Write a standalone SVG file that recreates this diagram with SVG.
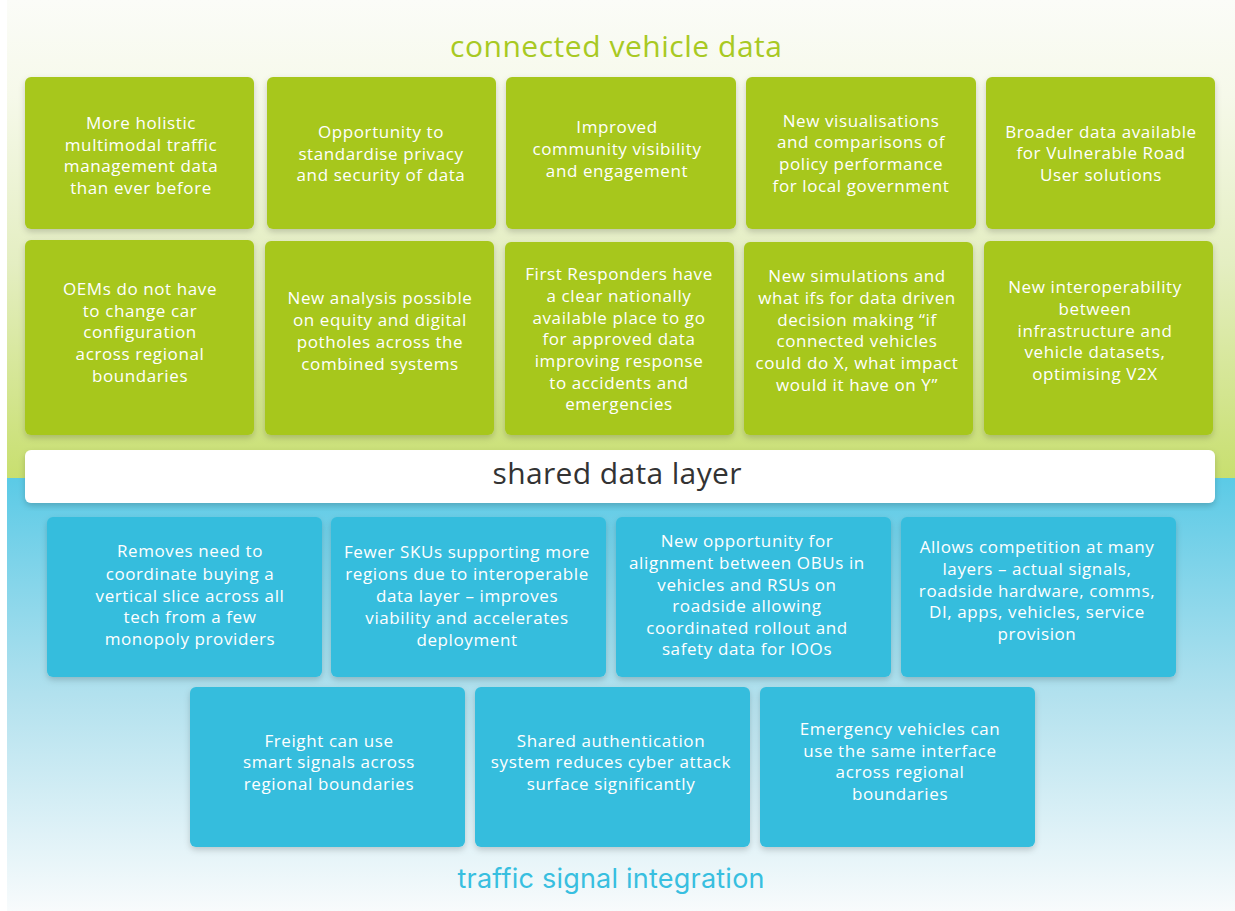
<svg xmlns="http://www.w3.org/2000/svg" width="1235" height="911" viewBox="0 0 1235 911">
  <defs>
    <linearGradient id="bgGreen" x1="0" y1="0" x2="0" y2="1">
      <stop offset="0" stop-color="#fbfcf8"/>
      <stop offset="0.2" stop-color="#f6f9ea"/>
      <stop offset="0.55" stop-color="#e4eec2"/>
      <stop offset="1" stop-color="#c8df6f"/>
    </linearGradient>
    <linearGradient id="bgBlue" x1="0" y1="0" x2="0" y2="1">
      <stop offset="0" stop-color="#5bcae6"/>
      <stop offset="0.5" stop-color="#b2e1ee"/>
      <stop offset="1" stop-color="#f8fbfc"/>
    </linearGradient>
    <filter id="shadow" x="-10%" y="-10%" width="120%" height="125%">
      <feDropShadow dx="0" dy="3" stdDeviation="3" flood-color="#000" flood-opacity="0.18"/>
    </filter>
  </defs>
  <style>
    .green { fill: #a7c71f; filter: url(#shadow); }
    .blue { fill: #34bddd; filter: url(#shadow); }
    .bar { fill: #ffffff; filter: url(#shadow); }
    .txt { font-family: "Open Sans", "Liberation Sans", sans-serif; font-size: 17px; font-weight: 500; letter-spacing: 0.6px; fill: #ffffff; text-anchor: middle; }
    .title { font-family: "Open Sans", "Liberation Sans", sans-serif; font-size: 30px; text-anchor: middle; }
  </style>

  <!-- backdrop -->
  <rect x="0" y="0" width="1235" height="911" fill="#ffffff"/>
  <rect x="7" y="0" width="1228" height="478" fill="url(#bgGreen)"/>
  <rect x="7" y="478" width="1228" height="433" fill="url(#bgBlue)"/>

  <!-- section headings -->
  <text class="title" x="616" y="57" fill="#a8c923" textLength="332" lengthAdjust="spacing">connected vehicle data</text>
  <text x="611" y="888" font-family="Inter, 'Liberation Sans', sans-serif" font-size="27px" text-anchor="middle" fill="#38bfe0" textLength="307" lengthAdjust="spacing">traffic signal integration</text>

  <!-- shared layer bar -->
  <g id="shared-layer">
    <rect class="bar" x="25" y="450" width="1190" height="53" rx="6"/>
    <text class="title" x="617" y="484" fill="#333333" textLength="249" lengthAdjust="spacing">shared data layer</text>
  </g>

  <!-- connected vehicle data: row 1 -->
  <g id="cv-holistic">
    <rect class="green" x="25" y="77" width="229" height="152" rx="6"/>
    <text class="txt"><tspan x="141" y="129">More holistic</tspan><tspan x="141" y="151">multimodal traffic</tspan><tspan x="141" y="172">management data</tspan><tspan x="141" y="194">than ever before</tspan></text>
  </g>
  <g id="cv-privacy">
    <rect class="green" x="267" y="77" width="229" height="152" rx="6"/>
    <text class="txt"><tspan x="381" y="138">Opportunity to</tspan><tspan x="381" y="160">standardise privacy</tspan><tspan x="381" y="181">and security of data</tspan></text>
  </g>
  <g id="cv-community">
    <rect class="green" x="506" y="77" width="230" height="152" rx="6"/>
    <text class="txt"><tspan x="617" y="133">Improved</tspan><tspan x="617" y="155">community visibility</tspan><tspan x="617" y="177">and engagement</tspan></text>
  </g>
  <g id="cv-visualisations">
    <rect class="green" x="746" y="77" width="230" height="152" rx="6"/>
    <text class="txt"><tspan x="861" y="127">New visualisations</tspan><tspan x="861" y="148">and comparisons of</tspan><tspan x="861" y="170">policy performance</tspan><tspan x="861" y="192">for local government</tspan></text>
  </g>
  <g id="cv-vru">
    <rect class="green" x="986" y="77" width="229" height="152" rx="6"/>
    <text class="txt"><tspan x="1101" y="138">Broader data available</tspan><tspan x="1101" y="159">for Vulnerable Road</tspan><tspan x="1101" y="181">User solutions</tspan></text>
  </g>

  <!-- connected vehicle data: row 2 -->
  <g id="cv-oems">
    <rect class="green" x="25" y="240" width="229" height="195" rx="6"/>
    <text class="txt"><tspan x="140" y="295">OEMs do not have</tspan><tspan x="140" y="317">to change car</tspan><tspan x="140" y="338">configuration</tspan><tspan x="140" y="360">across regional</tspan><tspan x="140" y="382">boundaries</tspan></text>
  </g>
  <g id="cv-equity">
    <rect class="green" x="265" y="241" width="229" height="194" rx="6"/>
    <text class="txt"><tspan x="380" y="304">New analysis possible</tspan><tspan x="380" y="326">on equity and digital</tspan><tspan x="380" y="348">potholes across the</tspan><tspan x="380" y="370">combined systems</tspan></text>
  </g>
  <g id="cv-responders">
    <rect class="green" x="505" y="242" width="229" height="193" rx="6"/>
    <text class="txt"><tspan x="619" y="280">First Responders have</tspan><tspan x="619" y="302">a clear nationally</tspan><tspan x="619" y="324">available place to go</tspan><tspan x="619" y="345">for approved data</tspan><tspan x="619" y="367">improving response</tspan><tspan x="619" y="389">to accidents and</tspan><tspan x="619" y="410">emergencies</tspan></text>
  </g>
  <g id="cv-simulations">
    <rect class="green" x="744" y="242" width="229" height="193" rx="6"/>
    <text class="txt"><tspan x="857" y="282">New simulations and</tspan><tspan x="857" y="304">what ifs for data driven</tspan><tspan x="857" y="326">decision making “if</tspan><tspan x="857" y="347">connected vehicles</tspan><tspan x="857" y="369">could do X, what impact</tspan><tspan x="857" y="391">would it have on Y”</tspan></text>
  </g>
  <g id="cv-interoperability">
    <rect class="green" x="984" y="241" width="229" height="194" rx="6"/>
    <text class="txt"><tspan x="1095" y="293">New interoperability</tspan><tspan x="1095" y="315">between</tspan><tspan x="1095" y="337">infrastructure and</tspan><tspan x="1095" y="358">vehicle datasets,</tspan><tspan x="1095" y="380">optimising V2X</tspan></text>
  </g>

  <!-- traffic signal integration: row 1 -->
  <g id="ts-vertical-slice">
    <rect class="blue" x="47" y="517" width="275" height="160" rx="6"/>
    <text class="txt"><tspan x="190" y="557">Removes need to</tspan><tspan x="190" y="580">coordinate buying a</tspan><tspan x="190" y="602">vertical slice across all</tspan><tspan x="190" y="623">tech from a few</tspan><tspan x="190" y="645">monopoly providers</tspan></text>
  </g>
  <g id="ts-skus">
    <rect class="blue" x="331" y="517" width="275" height="160" rx="6"/>
    <text class="txt"><tspan x="467" y="558">Fewer SKUs supporting more</tspan><tspan x="467" y="580">regions due to interoperable</tspan><tspan x="467" y="602">data layer – improves</tspan><tspan x="467" y="624">viability and accelerates</tspan><tspan x="467" y="646">deployment</tspan></text>
  </g>
  <g id="ts-obu-rsu">
    <rect class="blue" x="616" y="517" width="275" height="160" rx="6"/>
    <text class="txt"><tspan x="747" y="547">New opportunity for</tspan><tspan x="747" y="569">alignment between OBUs in</tspan><tspan x="747" y="591">vehicles and RSUs on</tspan><tspan x="747" y="612">roadside allowing</tspan><tspan x="747" y="634">coordinated rollout and</tspan><tspan x="747" y="655">safety data for IOOs</tspan></text>
  </g>
  <g id="ts-competition">
    <rect class="blue" x="901" y="517" width="275" height="160" rx="6"/>
    <text class="txt"><tspan x="1037" y="553">Allows competition at many</tspan><tspan x="1037" y="575">layers – actual signals,</tspan><tspan x="1037" y="597">roadside hardware, comms,</tspan><tspan x="1037" y="618">DI, apps, vehicles, service</tspan><tspan x="1037" y="640">provision</tspan></text>
  </g>

  <!-- traffic signal integration: row 2 -->
  <g id="ts-freight">
    <rect class="blue" x="190" y="687" width="275" height="160" rx="6"/>
    <text class="txt"><tspan x="329" y="747">Freight can use</tspan><tspan x="329" y="768">smart signals across</tspan><tspan x="329" y="790">regional boundaries</tspan></text>
  </g>
  <g id="ts-authentication">
    <rect class="blue" x="475" y="687" width="275" height="160" rx="6"/>
    <text class="txt"><tspan x="611" y="747">Shared authentication</tspan><tspan x="611" y="768">system reduces cyber attack</tspan><tspan x="611" y="790">surface significantly</tspan></text>
  </g>
  <g id="ts-emergency">
    <rect class="blue" x="760" y="687" width="275" height="160" rx="6"/>
    <text class="txt"><tspan x="900" y="735">Emergency vehicles can</tspan><tspan x="900" y="757">use the same interface</tspan><tspan x="900" y="778">across regional</tspan><tspan x="900" y="800">boundaries</tspan></text>
  </g>

  <!-- no connectors in this layout -->
  <g id="connectors"/>
</svg>
